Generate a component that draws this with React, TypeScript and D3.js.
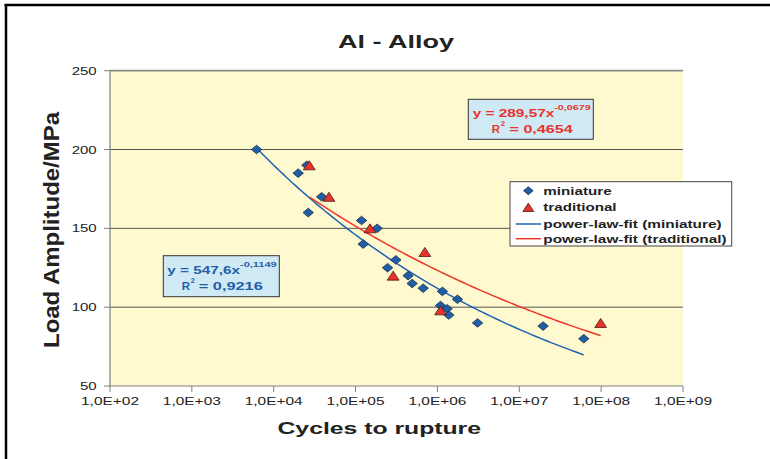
import React from 'react';
import * as d3 from 'd3';

// ---------- data ----------
const miniatureN = [6180, 19900, 25400, 38500, 26400, 118300, 183700, 123900, 310500, 246000, 438500, 490900, 669900, 1151000, 1758000, 1091000, 1315000, 1377000, 3090000, 19540000, 61380000];
const miniatureS = [200, 185, 190, 170, 160, 155, 150, 140, 130, 125, 120, 115, 112, 110, 105, 101, 99, 95, 90, 88, 80];
const traditionalN = [27200, 47300, 150000, 702000, 288000, 1091000, 98600000];
const traditionalS = [190, 170, 150, 135, 120, 98, 90];
// power-law fits  S = a * N^b
const fitMiniature = [547.6, -0.1149];
const fitTraditional = [421.7, -0.089];

const xTicks = [1e2, 1e3, 1e4, 1e5, 1e6, 1e7, 1e8, 1e9];
const xTickLabels = ['1,0E+02', '1,0E+03', '1,0E+04', '1,0E+05', '1,0E+06', '1,0E+07', '1,0E+08', '1,0E+09'];
const yTicks = [50, 100, 150, 200, 250];
const legendLabels = ['miniature', 'traditional', 'power-law-fit (miniature)', 'power-law-fit (traditional)'];

const FONT = "'Liberation Sans', Arial, sans-serif";
const BLUE = '#1f5fa8';
const RED = '#e8332a';
const NB = '\u00a0';

function T(props: any) {
  const { x, y, len, size, bold, fill, children, transform } = props;
  return (
    <text x={x} y={y} fontSize={size} fontWeight={bold ? 'bold' : 'normal'} fill={fill || '#222'}
      fontFamily={FONT} textLength={len} lengthAdjust="spacingAndGlyphs" transform={transform}>
      {children}
    </text>
  );
}

function diamond(cx: number, cy: number, w = 5.2, h = 4.3) {
  return `M${cx},${cy - h}L${cx + w},${cy}L${cx},${cy + h}L${cx - w},${cy}Z`;
}
function triangle(cx: number, cy: number, w = 5.9, h = 4.5) {
  return `M${cx},${cy - h}L${cx + w},${cy + h}L${cx - w},${cy + h}Z`;
}

export default function App() {
  const x = d3.scaleLog().domain([1e2, 1e9]).range([110, 683]);
  const y = d3.scaleLinear().domain([50, 250]).range([386, 70.7]);

  const fitLine = (fit: number[], ns: number[]) => {
    const lo = Math.log10(d3.min(ns) as number);
    const hi = Math.log10(d3.max(ns) as number);
    const pts = d3.range(0, 1.0001, 0.01).map(t => {
      const n = Math.pow(10, lo + (hi - lo) * t);
      return [n, fit[0] * Math.pow(n, fit[1])] as [number, number];
    });
    return d3.line<[number, number]>().x(d => x(d[0])).y(d => y(d[1]))(pts) as string;
  };

  const x0 = x.range()[0], x1 = x.range()[1];
  const yTop = y(250), yBot = y(50);

  return (
    <svg width={770} height={459} style={{ position: 'absolute', left: 0, top: 0, background: '#fff' }}>
      <rect x={0} y={0} width={770} height={459} fill="#fff" />
      {/* frame */}
      <line x1={4.5} y1={5} x2={770} y2={5} stroke="#000" strokeWidth={2.5} />
      <line x1={6} y1={4} x2={6} y2={459} stroke="#000" strokeWidth={2.5} />

      {/* plot area */}
      <rect x={x0} y={yTop} width={x1 - x0} height={yBot - yTop} fill="#fff9cf" />
      {yTicks.filter(v => v > 50).map(v => (
        <line key={v} x1={x0} x2={x1} y1={y(v)} y2={y(v)} stroke={v === 250 ? '#8a8a8a' : '#555'} strokeWidth={v === 250 ? 1.8 : 1} />
      ))}
      {/* axes */}
      <line x1={x0} x2={x0} y1={yTop} y2={yBot} stroke="#808080" strokeWidth={1.2} />
      <line x1={x0} x2={x1} y1={yBot} y2={yBot} stroke="#808080" strokeWidth={1.2} />
      {yTicks.map(v => (
        <line key={'yt' + v} x1={x0 - 6} x2={x0} y1={y(v)} y2={y(v)} stroke="#808080" strokeWidth={1} />
      ))}
      {xTicks.map(v => (
        <line key={'xt' + v} x1={x(v)} x2={x(v)} y1={yBot} y2={yBot + 6} stroke="#808080" strokeWidth={1} />
      ))}
      {yTicks.map(v => {
        const s = String(v);
        const len = 8.35 * s.length;
        return <T key={'yl' + v} x={96.7 - len} y={y(v) + 4} len={len} size={10.5}>{s}</T>;
      })}
      {xTicks.map((v, i) => (
        <T key={'xl' + v} x={x(v) - 29} y={405} len={58} size={10.5}>{xTickLabels[i]}</T>
      ))}

      {/* fit lines */}
      <path d={fitLine(fitMiniature, miniatureN)} fill="none" stroke="#1f64b4" strokeWidth={1.5} />
      <path d={fitLine(fitTraditional, traditionalN)} fill="none" stroke="#f0352a" strokeWidth={1.5} />

      {/* markers */}
      {miniatureN.map((n, i) => (
        <path key={'m' + i} d={diamond(x(n), y(miniatureS[i]))} fill={BLUE} stroke="#1c2b45" strokeWidth={0.8} />
      ))}
      {traditionalN.map((n, i) => (
        <path key={'t' + i} d={triangle(x(n), y(traditionalS[i]))} fill={RED} stroke="#4a1b1b" strokeWidth={0.8} />
      ))}

      {/* equation box: traditional */}
      <rect x={468.3} y={99.3} width={125} height={40} fill="#cfe9f5" stroke="#333" strokeWidth={1} />
      <T x={472.7} y={116.7} len={81.6} size={11.5} bold fill={RED}>y = 289,57x</T>
      <T x={554.3} y={109.5} len={36.4} size={8} bold fill={RED}>-0,0679</T>
      <T x={491.7} y={132.7} len={8.3} size={11.5} bold fill={RED}>R</T>
      <T x={500.7} y={125.5} len={4.3} size={8} bold fill={RED}>2</T>
      <T x={505} y={132.7} len={67.7} size={11.5} bold fill={RED}>{NB + '= 0,4654'}</T>

      {/* equation box: miniature */}
      <rect x={163.3} y={255.7} width={116} height={41} fill="#cfe9f5" stroke="#333" strokeWidth={1} />
      <T x={167.3} y={274} len={72.7} size={11.5} bold fill={BLUE}>y = 547,6x</T>
      <T x={240} y={266.7} len={36.7} size={8} bold fill={BLUE}>-0,1149</T>
      <T x={181.7} y={290} len={8.3} size={11.5} bold fill={BLUE}>R</T>
      <T x={190.7} y={283} len={4} size={8} bold fill={BLUE}>2</T>
      <T x={194.3} y={290} len={68.4} size={11.5} bold fill={BLUE}>{NB + '= 0,9216'}</T>

      {/* legend */}
      <rect x={510} y={181.7} width={221.7} height={64.3} fill="#fff" stroke="#444" strokeWidth={1} />
      <path d={diamond(528.3, 190.7, 4.8, 4)} fill={BLUE} stroke="#1c2b45" strokeWidth={0.8} />
      <path d={triangle(528.3, 207.3, 5.5, 4.2)} fill={RED} stroke="#4a1b1b" strokeWidth={0.8} />
      <line x1={515.7} x2={541} y1={224} y2={224} stroke="#1f64b4" strokeWidth={1.5} />
      <line x1={515.7} x2={541} y1={238.7} y2={238.7} stroke="#f0352a" strokeWidth={1.5} />
      {legendLabels.map((l, i) => (
        <T key={l} x={543.3} y={[194.5, 211, 227.6, 242.6][i]} len={[68.3, 73.3, 178.3, 183.3][i]} size={10.5} bold>{l}</T>
      ))}

      {/* titles */}
      <T x={338} y={48.3} len={116} size={18.6} bold>Al - Alloy</T>
      <T x={277.5} y={434.3} len={203.5} size={16.5} bold>Cycles to rupture</T>
      <T x={0} y={0} len={236} size={22} bold transform="translate(58.5,348) rotate(-90)">Load Amplitude/MPa</T>
    </svg>
  );
}
